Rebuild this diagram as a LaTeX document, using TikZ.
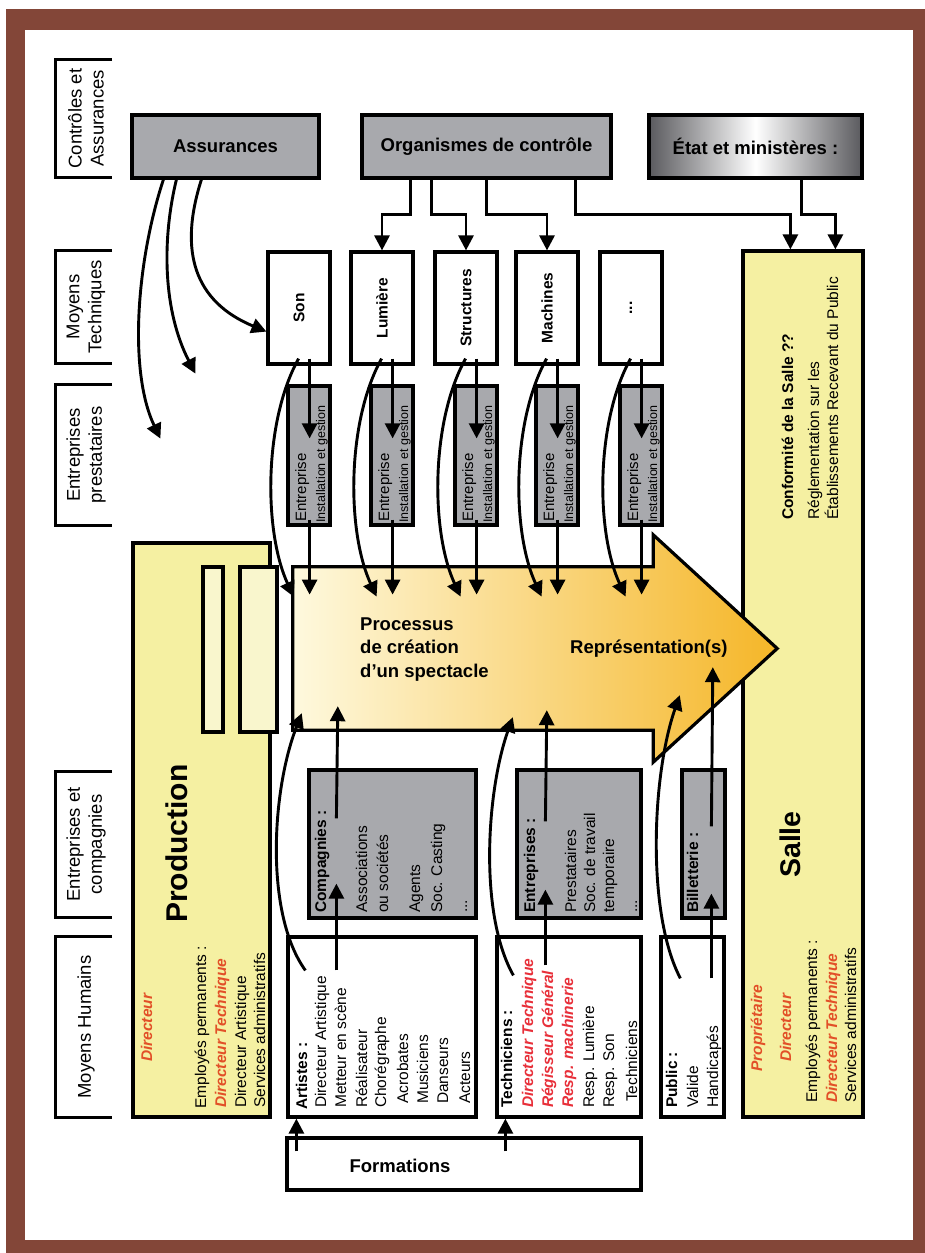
\documentclass[tikz,border=0pt]{standalone}
\usepackage{fontspec}
\setmainfont{Liberation Sans}
\usetikzlibrary{arrows.meta,calc}

\definecolor{framebrown}{RGB}{131,70,56}
\definecolor{boxgray}{RGB}{168,169,173}
\definecolor{pale}{RGB}{245,240,162}
\definecolor{paler}{RGB}{249,246,205}
\definecolor{flowL}{RGB}{254,249,222}
\definecolor{flowR}{RGB}{245,182,40}
\definecolor{redA}{RGB}{226,80,40}
\definecolor{redB}{RGB}{232,48,58}
\definecolor{steel}{RGB}{90,90,94}

\begin{document}
\begin{tikzpicture}[x=1pt,y=-1pt,
  box/.style={draw, line width=3.2pt, inner sep=0pt},
  graybox/.style={box, fill=boxgray},
  mtbox/.style={box, fill=white, minimum width=62pt, minimum height=112pt,
                font=\fontsize{15.5}{18}\selectfont\bfseries},
  entb/.style={graybox, minimum width=42pt, minimum height=139pt},
  brk/.style={line width=3pt},
  hdr/.style={rotate=90, align=center, inner sep=0pt, font=\fontsize{18.5}{22}\selectfont},
  ttl/.style={font=\fontsize{18.5}{22}\selectfont\bfseries},
  txt/.style={rotate=90, anchor=base west, inner sep=0pt, font=\fontsize{15.5}{18}\selectfont},
  txtb/.style={txt, font=\fontsize{15.5}{18}\selectfont\bfseries},
  txtr/.style={txt, font=\fontsize{15.5}{18}\selectfont\bfseries\itshape, text=redA},
  txtt/.style={txt, font=\fontsize{15.5}{18}\selectfont\bfseries\itshape, text=redB},
  big/.style={rotate=90, anchor=base west, inner sep=0pt, font=\fontsize{30}{36}\selectfont\bfseries},
  arr/.style={line width=2.9pt, -{Triangle[length=15pt,width=15pt]}}
]
\useasboundingbox (0,0) rectangle (925,1253);

% frame
\fill[white] (0,0) rectangle (925,1253);
\fill[framebrown] (6,9) rectangle (925,1253);
\fill[white] (25,30) rectangle (913,1240);

% row headers (left column)
\node[inner sep=0pt, minimum width=56pt, minimum height=117pt] (h1) at (84,118.5) {};
\node[inner sep=0pt, minimum width=56pt, minimum height=112pt] (h2) at (84,307) {};
\node[inner sep=0pt, minimum width=56pt, minimum height=140pt] (h3) at (84,455) {};
\node[inner sep=0pt, minimum width=56pt, minimum height=145pt] (h4) at (84,844.5) {};
\node[inner sep=0pt, minimum width=56pt, minimum height=180pt] (h5) at (84,1027) {};
\foreach \h in {h1,h2,h3,h4,h5}
  \draw[brk] (\h.north east) -- (\h.north west) -- (\h.south west) -- (\h.south east);
\node[hdr] (h1t) at (86,118.5) {Contrôles et\\Assurances};
\node[hdr] (h2t) at (86,307) {Moyens\\Techniques};
\node[hdr] (h3t) at (86,455) {Entreprises\\prestataires};
\node[hdr] (h4t) at (86,844.5) {Entreprises et\\compagnies};
\node[hdr] (h5t) at (86,1027) {Moyens Humains};

% controls and insurance
\node[graybox, ttl, minimum width=187pt, minimum height=63pt] (assur) at (225.5,146.5) {Assurances};
\node[graybox, ttl, minimum width=249pt, minimum height=63pt] (orga) at (486.5,146.5) {Organismes de contrôle};
\node[box, ttl, minimum width=213pt, minimum height=63pt,
      left color=steel, right color=steel, middle color=white] (etat) at (755.5,146.5) {État et ministères :};

% technical means
\node[mtbox] (son) at (299,308) {\rotatebox{90}{Son}};
\node[mtbox] (lum) at (382,308) {\rotatebox{90}{Lumière}};
\node[mtbox] (str) at (466,308) {\rotatebox{90}{Structures}};
\node[mtbox] (mac) at (547,308) {\rotatebox{90}{Machines}};
\node[mtbox] (dts) at (631,308) {\rotatebox{90}{...}};

% service companies
\foreach \n/\r in {1/330,2/413,3/497,4/578,5/662} {
  \node[entb] (ent\n) at (\r-21,455.5) {};
  \node[txt, font=\fontsize{15}{18}\selectfont] (entA\n) at (\r-24,522) {Entreprise};
  \node[txt, font=\fontsize{12.5}{15}\selectfont] (entB\n) at (\r-5,523) {Installation et gestion};
}

% production
\node[box, fill=pale, minimum width=137pt, minimum height=574pt] (prod) at (201.5,830) {};
\node[box, fill=paler, minimum width=20pt, minimum height=165pt] (prodA) at (213,649.5) {};
\node[box, fill=paler, minimum width=37pt, minimum height=165pt] (prodB) at (258.5,649.5) {};
\node[big] (ptitle) at (187,923) {Production};
\node[txtr] (pdir) at (152,1062) {Directeur};
\node[txt] (pemp) at (206,1109) {Employés permanents :};
\node[txtr] (pdt) at (226,1108) {Directeur Technique};
\node[txt] (pda) at (246,1108) {Directeur Artistique};
\node[txt] (psa) at (265,1108) {Services administratifs};

% venue
\node[box, fill=pale, minimum width=120pt, minimum height=866pt] (salle) at (803,684) {};
\node[txtb] (scon) at (793,520) {Conformité de la Salle ??};
\node[txt] (sreg) at (819,520) {Réglementation sur les};
\node[txt] (serp) at (838,520) {Établissements Recevant du Public};
\node[big, font=\fontsize{28.5}{34}\selectfont\bfseries] (stitle) at (800,878) {Salle};
\node[txtr] (spro) at (762,1072) {Propriétaire};
\node[txtr] (sdir) at (791,1062) {Directeur};
\node[txt] (semp) at (817,1103) {Employés permanents :};
\node[txtr] (sdt) at (837,1103) {Directeur Technique};
\node[txt] (ssa) at (856,1103) {Services administratifs};

% creation process arrow
\node[inner sep=0pt, minimum width=360pt, minimum height=163pt] (flow) at (473,648.5) {};
\draw[line width=3.2pt, left color=flowL, right color=flowR]
  (flow.north west) -- (flow.north east) -- ++(0,-32) -- ($(flow.east)+(124,0)$)
  -- ($(flow.south east)+(0,32)$) -- (flow.south east) -- (flow.south west) -- cycle;
\node[ttl, anchor=base west, inner sep=0pt] (proc1) at (360,630) {Processus};
\node[ttl, anchor=base west, inner sep=0pt] (proc2) at (360,653) {de création};
\node[ttl, anchor=base west, inner sep=0pt] (proc3) at (360,677) {d’un spectacle};
\node[ttl, anchor=base west, inner sep=0pt] (repr) at (570,653) {Représentation(s)};

% companies and human resources
\node[graybox, minimum width=167pt, minimum height=148pt] (comp) at (392.5,844) {};
\node[graybox, minimum width=124pt, minimum height=148pt] (entr) at (579,844) {};
\node[graybox, minimum width=43pt, minimum height=148pt] (bill) at (703.5,844) {};
\node[box, fill=white, minimum width=188pt, minimum height=180pt] (art) at (382,1027) {};
\node[box, fill=white, minimum width=144pt, minimum height=180pt] (tech) at (569,1027) {};
\node[box, fill=white, minimum width=63pt, minimum height=180pt] (pub) at (692.5,1027) {};
\node[box, fill=white, minimum width=354pt, minimum height=52pt] (form) at (464,1164) {};
\node[ttl, anchor=base, inner sep=0pt] (formt) at (400,1172) {Formations};

\node[txtb] (c0) at (326,913) {Compagnies :};
\node[txt] (c1) at (367,913) {Associations};
\node[txt] (c2) at (388,913) {ou sociétés};
\node[txt] (c3) at (420,913) {Agents};
\node[txt] (c4) at (442,913) {Soc. Casting};
\node[txt] (c5) at (467,913) {...};

\node[txtb] (e0) at (535,913) {Entreprises :};
\node[txt] (e1) at (576,913) {Prestataires};
\node[txt] (e2) at (595,913) {Soc. de travail};
\node[txt] (e3) at (614,913) {temporaire};
\node[txt] (e4) at (637,913) {...};

\node[txtb] (b0) at (698,913) {Billetterie :};

\node[txtb] (a0) at (307,1110) {Artistes :};
\node[txt] (a1) at (326,1108) {Directeur Artistique};
\node[txt] (a2) at (346,1108) {Metteur en scène};
\node[txt] (a3) at (367,1108) {Réalisateur};
\node[txt] (a4) at (386,1108) {Chorégraphe};
\node[txt] (a5) at (408,1104) {Acrobates};
\node[txt] (a6) at (428,1104) {Musiciens};
\node[txt] (a7) at (448,1104) {Danseurs};
\node[txt] (a8) at (470,1104) {Acteurs};

\node[txtb] (t0) at (512,1108) {Techniciens :};
\node[txtt] (t1) at (533,1108) {Directeur Technique};
\node[txtt] (t2) at (553,1108) {Régisseur Général};
\node[txtt] (t3) at (573,1108) {Resp. machinerie};
\node[txt] (t4) at (594,1108) {Resp. Lumière};
\node[txt] (t5) at (614,1108) {Resp. Son};
\node[txt] (t6) at (637,1102) {Techniciens};

\node[txtb] (p0) at (677,1108) {Public :};
\node[txt] (p1) at (698,1108) {Valide};
\node[txt] (p2) at (718,1108) {Handicapés};

% insurance links
\draw[arr] ($(assur.south west)+(33,0)$) .. controls +(-27,82) and +(-32,-67) .. ($(assur.south west)+(30,259)$);
\draw[arr] ($(assur.south west)+(46,0)$) .. controls +(-15,62) and +(-32,-62) .. ($(assur.south west)+(65,194)$);
\draw[arr] ($(assur.south west)+(71,0)$) .. controls +(-23,72) and +(-72,-30) .. ($(son.south west)+(0,-34)$);

% control bodies
\draw[arr] ($(orga.south west)+(50,0)$) -- ++(0,35) -| (lum.north);
\draw[arr] ($(orga.south west)+(71,0)$) -- ++(0,35) -| (str.north);
\draw[arr] ($(orga.south west)+(126,0)$) -- ++(0,35) -| (mac.north);
\draw[arr] ($(orga.south west)+(215,0)$) -- ++(0,35) -| ($(salle.north west)+(49,0)$);
\draw[arr] ($(etat.south west)+(154,0)$) -- ++(0,35) -| ($(salle.north west)+(94,0)$);

% technical means into the process
\foreach \m/\n in {son/1,lum/2,str/3,mac/4,dts/5} {
  \draw[arr] ($(\m.south east)+(-22,-7)$) -- ($(ent\n.north east)+(-22,54)$);
  \draw[arr] ($(ent\n.south east)+(-22,-7)$) -- ($(ent\n.south east)+(-22,68)$);
  \draw[arr] ($(\m.south east)+(-33,-7)$) .. controls +(-35,63) and +(-30,-65) .. ($(ent\n.south east)+(-38,70)$);
}

% human resources into the process
\draw[arr] ($(art.north west)+(50,35)$) -- ($(comp.south west)+(29,-36)$);
\draw[arr] ($(comp.north west)+(29,50)$) -- ($(flow.south west)+(45,-24)$);
\draw[arr] ($(tech.north west)+(50,30)$) -- ($(entr.south west)+(30,-30)$);
\draw[arr] ($(entr.north west)+(30,53)$) -- ($(flow.south west)+(254,-20)$);
\draw[arr] ($(pub.north west)+(52,43)$) -- ($(bill.south west)+(31,-26)$);
\draw[arr] ($(bill.north west)+(31,58)$) -- ($(flow.south west)+(420,-63)$);
\draw[arr] ($(art.north west)+(19,35)$) .. controls +(-41,-57) and +(-30,77) .. ($(flow.south west)+(9,-17)$);
\draw[arr] ($(tech.north west)+(18,40)$) .. controls +(-35,-62) and +(-26,73) .. ($(flow.south west)+(220,-13)$);
\draw[arr] ($(pub.north west)+(21,43)$) .. controls +(-34,-65) and +(-28,80) .. ($(flow.south west)+(387,-35)$);

% training
\draw[arr] ($(form.north west)+(11,15)$) -- ($(art.south west)+(10,0)$);
\draw[arr] ($(form.north west)+(220,15)$) -- ($(tech.south west)+(10,0)$);
\end{tikzpicture}
\end{document}
